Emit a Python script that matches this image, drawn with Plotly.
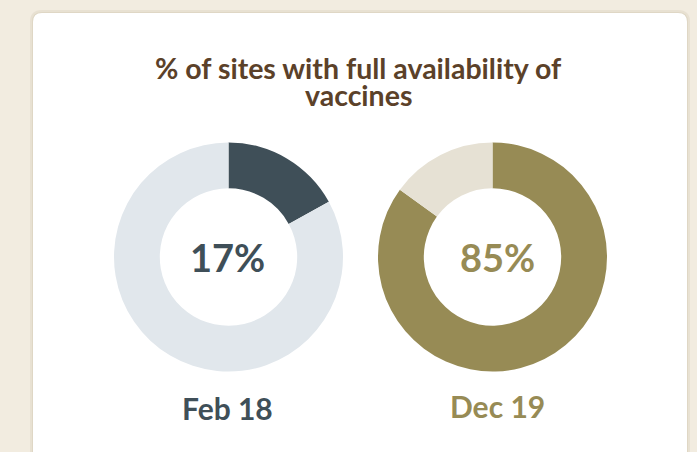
import plotly.graph_objects as go

W, H = 697, 452

# ---- data ----
periods = ["Feb 18", "Dec 19"]
full_pct = [17, 85]
rest_pct = [83, 15]
title_lines = ["% of sites with full availability of", "vaccines"]

# ---- styles ----
FONT = "Lato"
BG = "#f2ece0"
CARD = "#ffffff"
TITLE_C = "#5b4129"
main_cols = ["#3f4f58", "#978b55"]
rest_cols = ["#e1e7ec", "#e6e1d4"]

centers_px = [(228.5, 257), (492.5, 257)]
R = 114.5
text_x_px = [228, 497]

def px_x(x):
    return x / W

def px_y(y):
    return 1 - y / H

fig = go.Figure()
for i, p in enumerate(periods):
    cx, cy = centers_px[i]
    fig.add_trace(go.Pie(
        values=[full_pct[i], rest_pct[i]],
        labels=["Full availability", "Other"],
        marker=dict(colors=[main_cols[i], rest_cols[i]], line=dict(width=0)),
        hole=0.6,
        sort=False,
        direction="clockwise",
        rotation=0,
        textinfo="none",
        hoverinfo="label+value",
        showlegend=False,
        domain=dict(x=[px_x(cx - R), px_x(cx + R)], y=[px_y(cy + R), px_y(cy - R)]),
    ))

annotations = []
# title lines
annotations.append(dict(text="<b>%s</b>" % title_lines[0], x=px_x(358.5), y=px_y(68),
                        font=dict(family=FONT, size=28.5, color=TITLE_C)))
annotations.append(dict(text="<b>%s</b>" % title_lines[1], x=px_x(358.5), y=px_y(95),
                        font=dict(family=FONT, size=28.5, color=TITLE_C)))
for i, p in enumerate(periods):
    annotations.append(dict(text="<b>%d%%</b>" % full_pct[i], x=px_x(text_x_px[i]),
                            y=px_y(257), font=dict(family=FONT, size=38, color=main_cols[i])))
    annotations.append(dict(text="<b>%s</b>" % p, x=px_x(text_x_px[i]),
                            y=px_y(408 if i == 0 else 406),
                            font=dict(family=FONT, size=30, color=main_cols[i])))
for a in annotations:
    a.update(xref="paper", yref="paper", showarrow=False, xanchor="center", yanchor="middle")

def rounded_rect(x0, y0, x1, y1, r):
    # pixel coords (top-left origin) -> paper path
    X = lambda v: v / W
    Y = lambda v: 1 - v / H
    return (f"M {X(x0 + r)} {Y(y0)} L {X(x1 - r)} {Y(y0)} "
            f"Q {X(x1)} {Y(y0)} {X(x1)} {Y(y0 + r)} L {X(x1)} {Y(y1)} "
            f"L {X(x0)} {Y(y1)} L {X(x0)} {Y(y0 + r)} "
            f"Q {X(x0)} {Y(y0)} {X(x0 + r)} {Y(y0)} Z")

shapes = [
    dict(type="path", path=rounded_rect(30, 10, 690, 470, 12), xref="paper", yref="paper",
         fillcolor="rgba(150,130,90,0.10)", line=dict(width=0), layer="below"),
    dict(type="path", path=rounded_rect(32, 12, 688, 470, 10), xref="paper", yref="paper",
         fillcolor="rgba(150,130,90,0.10)", line=dict(width=0), layer="below"),
    dict(type="path", path=rounded_rect(33, 13, 687, 470, 9), xref="paper", yref="paper",
         fillcolor=CARD, line=dict(width=0), layer="below"),
]

fig.update_layout(
    width=W, height=H,
    margin=dict(l=0, r=0, t=0, b=0),
    paper_bgcolor=BG, plot_bgcolor=BG,
    annotations=annotations,
    shapes=shapes,
    font=dict(family=FONT),
)
fig.write_html(
    "out.html",
    config={"displayModeBar": False},
    post_script="document.body.style.margin='0';document.body.style.background='%s';" % BG,
)
